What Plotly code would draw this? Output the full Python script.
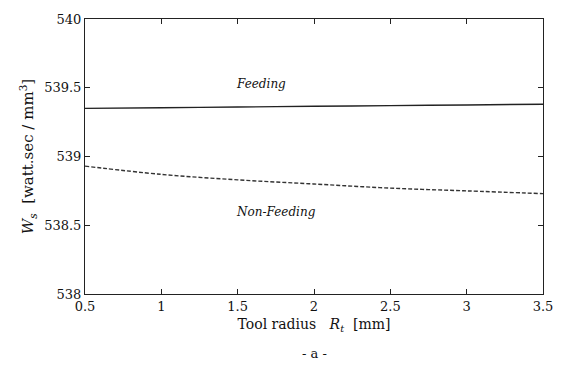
import plotly.graph_objects as go

radius = [0.5, 1.0, 1.5, 2.0, 2.5, 3.0, 3.5]
feeding = [539.35, 539.355, 539.36, 539.365, 539.37, 539.375, 539.38]
non_feeding = [538.93, 538.87, 538.83, 538.80, 538.77, 538.75, 538.73]

x_ticks = [0.5, 1, 1.5, 2, 2.5, 3, 3.5]
y_ticks = [538, 538.5, 539, 539.5, 540]

FONT = "DejaVu Serif"

fig = go.Figure()
fig.add_trace(go.Scatter(x=radius, y=feeding, mode="lines", line=dict(color="#222", width=1.4, shape="spline"), showlegend=False))
fig.add_trace(go.Scatter(x=radius, y=non_feeding, mode="lines", line=dict(color="#333", width=1.4, dash="4px,2px", shape="spline"), showlegend=False))

fig.add_annotation(x=1.65, y=539.53, text="<i>Feeding</i>", showarrow=False, font=dict(family=FONT, size=12, color="#111"))
fig.add_annotation(x=1.75, y=538.60, text="<i>Non-Feeding</i>", showarrow=False, font=dict(family=FONT, size=12, color="#111"))

axis_common = dict(showgrid=False, zeroline=False, showline=True, linecolor="#222", linewidth=1,
                   mirror="ticks", ticks="inside", ticklen=5, tickcolor="#222",
                   tickfont=dict(family=FONT, size=13, color="#111"))

fig.update_xaxes(range=[0.5, 3.5], tickvals=x_ticks, ticktext=[f"{v:g}" for v in x_ticks],
                 title=dict(text="Tool radius   <i>R</i><sub><i>t</i></sub>  [mm]", font=dict(family=FONT, size=14, color="#111"), standoff=6),
                 **axis_common)
fig.update_yaxes(range=[538, 540], tickvals=y_ticks, ticktext=[f"{v:g}" for v in y_ticks],
                 title=dict(text="<i>W</i><sub><i>s</i></sub>  [watt.sec / mm<sup>3</sup>]", font=dict(family=FONT, size=15, color="#111"), standoff=6),
                 **axis_common)

fig.add_annotation(xref="paper", yref="paper", x=0.5, y=-0.218, text="- a -", showarrow=False,
                   font=dict(family=FONT, size=13, color="#111"), yanchor="middle")

fig.update_layout(width=565, height=380, margin=dict(l=85, r=13, t=15, b=86),
                  font=dict(family=FONT),
                  plot_bgcolor="white", paper_bgcolor="white")

fig.write_html("out.html")
